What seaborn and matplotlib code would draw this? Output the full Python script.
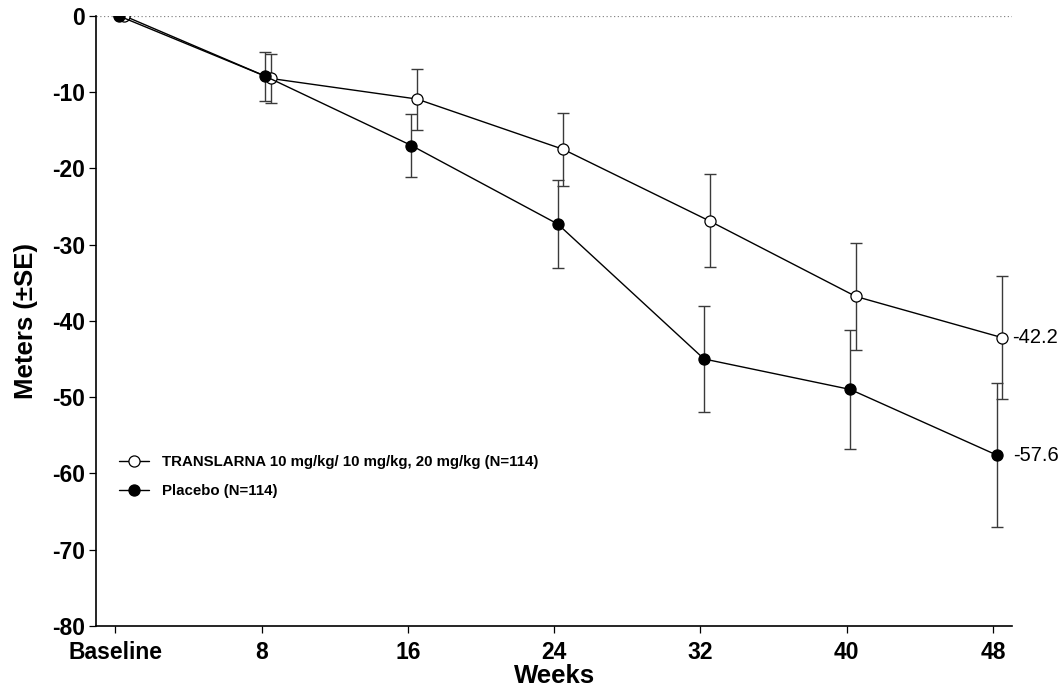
import numpy as np
import pandas as pd
import seaborn as sns
import matplotlib.pyplot as plt

weeks = [0, 8, 16, 24, 32, 40, 48]
tick_labels = ["Baseline", "8", "16", "24", "32", "40", "48"]
translarna_mean = [0, -8.2, -10.9, -17.5, -26.9, -36.8, -42.2]
translarna_se = [0, 3.2, 4.0, 4.8, 6.1, 7.0, 8.1]
placebo_mean = [0, -7.9, -17.0, -27.3, -45.0, -49.0, -57.6]
placebo_se = [0, 3.2, 4.1, 5.8, 7.0, 7.8, 9.5]
translarna_label = "TRANSLARNA 10 mg/kg/ 10 mg/kg, 20 mg/kg (N=114)"
placebo_label = "Placebo (N=114)"

sns.set_style("ticks")
plt.rcParams['font.family'] = ['Liberation Sans', 'DejaVu Sans']
plt.rcParams['axes.unicode_minus'] = False
plt.rcParams['text.color'] = 'black'
plt.rcParams['xtick.color'] = 'black'
plt.rcParams['ytick.color'] = 'black'
plt.rcParams['axes.labelcolor'] = 'black'

df = pd.DataFrame({
    "week": weeks * 2,
    "mean": translarna_mean + placebo_mean,
    "se": translarna_se + placebo_se,
    "group": [translarna_label] * len(weeks) + [placebo_label] * len(weeks),
})
# small horizontal nudge so the two groups don't overlap
nudge = {translarna_label: 0.5, placebo_label: 0.2}
df["x"] = df["week"] + df["group"].map(nudge)

fig, ax = plt.subplots(figsize=(10.61, 6.93), dpi=100)
fig.subplots_adjust(left=0.0905, right=0.954, bottom=0.097, top=0.977)

ax.axhline(0, color="#888888", lw=0.9, ls=(0, (1, 2)), zorder=0)

face = {translarna_label: "white", placebo_label: "black"}
for grp in [translarna_label, placebo_label]:
    d = df[df["group"] == grp]
    ax.errorbar(d["x"], d["mean"], yerr=d["se"], fmt="none", ecolor="#3a3a3a",
                elinewidth=1.0, capsize=4, capthick=1.0, zorder=2)
    sns.lineplot(data=d, x="x", y="mean", ax=ax, color="black", lw=1.0,
                 marker="o", markersize=8, markerfacecolor=face[grp],
                 markeredgecolor="black", markeredgewidth=0.9, label=grp,
                 zorder=3)

last_t = df[df["group"] == translarna_label].iloc[-1]
last_p = df[df["group"] == placebo_label].iloc[-1]
ax.annotate(f"{last_t['mean']:.1f}", (last_t["x"], last_t["mean"]),
            xytext=(7, 0), textcoords="offset points", va="center", fontsize=14.5)
ax.annotate(f"{last_p['mean']:.1f}", (last_p["x"], last_p["mean"]),
            xytext=(12, 0), textcoords="offset points", va="center", fontsize=14.5)

ax.set_xlim(-1.05, 49.05)
ax.set_ylim(-80, 0)
ax.set_xticks(weeks)
ax.set_xticklabels(tick_labels)
ax.set_yticks(np.arange(-80, 1, 10))
for lab in ax.get_xticklabels() + ax.get_yticklabels():
    lab.set_fontweight("bold")
    lab.set_fontsize(16.5)
ax.tick_params(axis="both", direction="out", length=5, width=0.9)
ax.tick_params(axis="x", pad=6)
ax.tick_params(axis="y", pad=3)
ax.set_xlabel("Weeks", fontsize=18.5, fontweight="bold", labelpad=0)
ax.set_ylabel("Meters (±SE)", fontsize=18.5, fontweight="bold", labelpad=10)
sns.despine(ax=ax)
for s in ["left", "bottom"]:
    ax.spines[s].set_linewidth(1.2)
    ax.spines[s].set_color("black")

ax.legend(loc="upper left", bbox_to_anchor=(0.01, 0.302), frameon=False,
          prop={"weight": "bold", "size": 10.8}, handlelength=2.0,
          labelspacing=1.0, handletextpad=0.9)

plt.savefig("out.png", dpi=100)
